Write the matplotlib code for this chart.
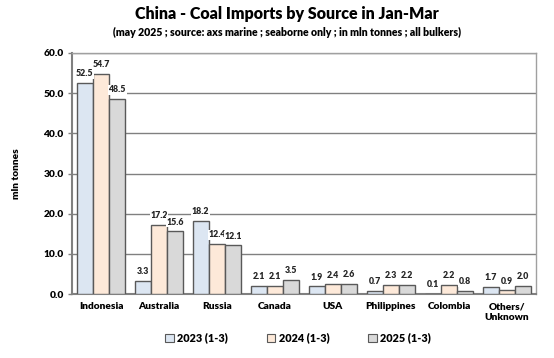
import matplotlib
matplotlib.use("Agg")
import matplotlib.pyplot as plt
import numpy as np
from matplotlib.patches import Patch

categories = ["Indonesia", "Australia", "Russia", "Canada", "USA", "Philippines", "Colombia", "Others/\nUnknown"]
series_names = ["2023 (1-3)", "2024 (1-3)", "2025 (1-3)"]
v2023 = [52.5, 3.3, 18.2, 2.1, 1.9, 0.7, 0.1, 1.7]
v2024 = [54.7, 17.2, 12.4, 2.1, 2.4, 2.3, 2.2, 0.9]
v2025 = [48.5, 15.6, 12.1, 3.5, 2.6, 2.2, 0.8, 2.0]
yticks = [0, 10, 20, 30, 40, 50, 60]

colors = ["#DCE6F2", "#FDE9D9", "#D9D9D9"]
edge = "#595959"
font = "Lato"

fig = plt.figure(figsize=(5.54, 3.58), dpi=100)
ax = fig.add_axes([72/554, 1-294/358, 464/554, 241/358])

x = np.arange(len(categories))
w = 0.28
for i, (vals, c) in enumerate(zip([v2023, v2024, v2025], colors)):
    pos = x + (i - 1) * w
    ax.bar(pos, vals, width=w, color=c, edgecolor=edge, linewidth=1.0, zorder=3)
    for p, v in zip(pos, vals):
        ax.text(p, v + 1.2, f"{v:.1f}", ha="center", va="bottom", fontsize=6.3, fontweight="heavy",
                family=font, color="#262626", zorder=4,
                bbox=dict(facecolor="white", edgecolor="none", pad=0.5))

ax.set_xlim(-0.5, len(categories) - 0.5)
ax.set_ylim(0, 60)
ax.set_yticks(yticks)
ax.set_yticklabels([f"{t:.1f}" for t in yticks], fontsize=7.3, fontweight="heavy", family=font)
ax.set_xticks(x)
ax.set_xticklabels(categories, fontsize=7.3, fontweight="heavy", family=font, linespacing=1.3)
ax.tick_params(axis="x", length=0, pad=6)
ax.tick_params(axis="y", length=3, color="#808080", width=1, pad=3)
ax.yaxis.grid(True, color="#808080", linewidth=1, zorder=0)
ax.set_axisbelow(True)
for s in ["left", "bottom"]:
    ax.spines[s].set_color("#808080")
    ax.spines[s].set_linewidth(1.5)
for s in ["top", "right"]:
    ax.spines[s].set_color("#A0A0A0")
    ax.spines[s].set_linewidth(1)
ax.set_ylabel("mln tonnes", fontsize=7.3, fontweight="heavy", family=font, labelpad=16)

fig.text(287/554, 1-14/358, "China - Coal Imports by Source in Jan-Mar", ha="center", va="center",
         fontsize=11.5, fontweight="heavy", family=font)
fig.text(287/554, 1-32/358, "(may 2025 ; source: axs marine ; seaborne only ; in mln tonnes ; all bulkers)",
         ha="center", va="center", fontsize=7.6, fontweight="heavy", family=font)

handles = [Patch(facecolor=c, edgecolor=edge, linewidth=0.8) for c in colors]
fig.legend(handles, series_names, loc="center", bbox_to_anchor=(298/554, 1-338/358), ncol=3,
           frameon=False, prop=dict(family=font, weight="heavy", size=7.8),
           handlelength=0.8, handleheight=0.8, handletextpad=0.3, columnspacing=3.6)

fig.savefig("out.png", dpi=100)
